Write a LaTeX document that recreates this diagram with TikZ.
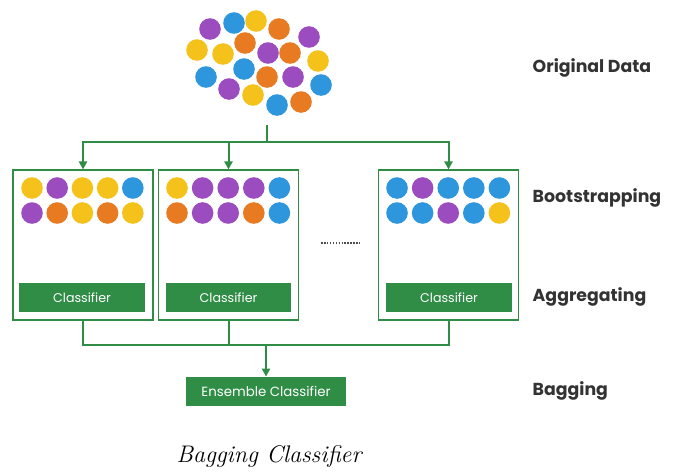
\documentclass[tikz,border=0pt]{standalone}
\usepackage{fontspec}
\setsansfont{Poppins}
\usetikzlibrary{arrows.meta,positioning}

\definecolor{gfg}{HTML}{2F8D46}
\definecolor{cy}{HTML}{F4C21B}
\definecolor{cp}{HTML}{9B4DBF}
\definecolor{co}{HTML}{E87B22}
\definecolor{cb}{HTML}{2E96DD}

\tikzset{
  link/.style={draw=gfg, line width=1.5pt},
  flow/.style={link, -{Triangle[width=6pt,length=6pt]}},
  sample/.style={draw=gfg, line width=1.3pt, fill=white, minimum width=105pt, minimum height=112pt, inner sep=0pt},
  clf/.style={fill=gfg, text=white, font=\sffamily\fontsize{9.5}{11}\selectfont, minimum width=94pt, minimum height=22pt, inner sep=0pt},
  stage/.style={anchor=west, font=\sffamily\bfseries\fontsize{13}{15}\selectfont, text=black!80},
}

\begin{document}
\begin{tikzpicture}[x=0.75pt, y=-0.75pt]
  \fill[white] (0,0) rectangle (677,471);
  \useasboundingbox (0,0) rectangle (677,471);

  % original data
  \foreach \px/\py/\c in {210/29/cp, 234/23/cb, 256/21/cy, 279/29/co, 309/37/cp,
                          197/50/cy, 223/54/cy, 245/43/co, 268/53/cp, 290/53/co, 318/61/cy,
                          206/77/cb, 244/69/cb, 267/77/co, 293/77/cp, 321/85/cb,
                          229/89/cp, 253/95/cy, 277/105/cb, 301/102/co}
    \fill[\c] (\px,\py) circle[radius=8.1pt];
  \coordinate (data) at (267,125);
  \coordinate (split) at (267,142);

  % bootstrap samples
  \node[sample] (s1) at (83,245) {};
  \node[sample] (s2) at (228.5,245) {};
  \node[sample] (s3) at (448.5,245) {};
  \foreach \c [count=\i from 0] in {cy,cp,cy,cy,cb}
    \fill[\c] ({32+25.2*\i},188) circle[radius=8.1pt];
  \foreach \c [count=\i from 0] in {cp,co,cy,co,cy}
    \fill[\c] ({32+25.2*\i},213) circle[radius=8.1pt];
  \foreach \c [count=\i from 0] in {cy,cp,cp,cp,cb}
    \fill[\c] ({177+25.6*\i},188) circle[radius=8.1pt];
  \foreach \c [count=\i from 0] in {co,cp,cp,co,cb}
    \fill[\c] ({177+25.6*\i},213) circle[radius=8.1pt];
  \foreach \c [count=\i from 0] in {cb,cp,cb,cb,cb}
    \fill[\c] ({397+25.6*\i},188) circle[radius=8.1pt];
  \foreach \c [count=\i from 0] in {cb,cb,cp,cb,cy}
    \fill[\c] ({397+25.6*\i},213) circle[radius=8.1pt];

  \node[clf] (c1) at (82,297.5) {Classifier};
  \node[clf] (c2) at (228.5,297.5) {Classifier};
  \node[clf] (c3) at (449,297.5) {Classifier};

  \coordinate (d1) at (321,243);
  \coordinate (d2) at (360,243);
  \draw[black!70, line width=1.2pt, dash pattern=on 1.2pt off 1pt] (d1) -- (d2);

  % aggregation
  \coordinate (join) at (266,345);
  \node[clf, minimum width=120pt, font=\sffamily\fontsize{10}{12}\selectfont] (ens) at (266,391.5) {Ensemble Classifier};

  \draw[link] (data) -- (split);
  \draw[flow] (split) -| (s1.north);
  \draw[flow] (split) -| (s2.north);
  \draw[flow] (split) -| (s3.north);
  \draw[link] (s1.south) |- (join);
  \draw[link] (s3.south) |- (join);
  \draw[link] (s2.south) -- (s2.south |- join);
  \draw[flow] (join) -- (ens.north);

  % stages
  \node[stage] (l1) at (528,68) {Original Data};
  \node[stage] (l2) at (528,198) {Bootstrapping};
  \node[stage] (l3) at (528,297) {Aggregating};
  \node[stage] (l4) at (528,391) {Bagging};

  \node[font=\itshape\fontsize{18}{21}\selectfont] (cap) at (269,456) {Bagging Classifier};
\end{tikzpicture}
\end{document}
